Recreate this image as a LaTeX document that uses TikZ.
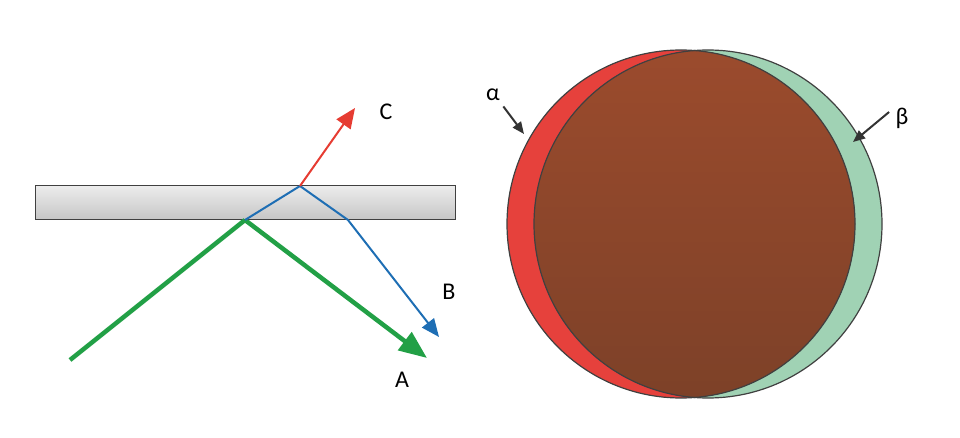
\documentclass[tikz,border=0pt]{standalone}
\usepackage{fontspec}
\setmainfont{Carlito}
\usetikzlibrary{arrows.meta}
\begin{document}
\begin{tikzpicture}[x=1pt,y=-1pt,
  lbl/.style={font=\fontsize{24}{28}\selectfont},
  ray/.style={line width=2pt}]
\useasboundingbox (0,0) rectangle (960,438);
\node[draw=black!75,line width=1pt,top color=gray!15,bottom color=gray!45,minimum width=420pt,minimum height=34pt,inner sep=0pt] (slab) at (245,203) {};
\coordinate (g0) at (70,360);
\coordinate (p1) at (245,220);
\coordinate (p2) at (300,186);
\coordinate (p3) at (348,220);
\coordinate (ga) at (427,358);
\coordinate (be) at (439,337);
\coordinate (ce) at (355,108);
\draw[line width=4.5pt,color={rgb,255:red,34;green,160;blue,70}] (g0) -- (p1);
\draw[line width=4.5pt,color={rgb,255:red,34;green,160;blue,70},-{Triangle[length=28pt,width=22pt]}] (p1) -- (ga);
\draw[ray,color={rgb,255:red,30;green,110;blue,180},-{Triangle[length=18pt,width=15pt]}] (p1) -- (p2) -- (p3) -- (be);
\draw[ray,color={rgb,255:red,230;green,60;blue,50},-{Triangle[length=20pt,width=17pt]}] (p2) -- (ce);
\node[lbl] (C) at (386,112) {C};
\node[lbl] (B) at (449,292) {B};
\node[lbl] (A) at (402,380) {A};
\fill[color={rgb,255:red,230;green,65;blue,60}] (681,224) circle (174);
\fill[color={rgb,255:red,160;green,210;blue,180}] (708,224) circle (174);
\begin{scope}
\clip (681,224) circle (174);
\fill[top color={rgb,255:red,155;green,75;blue,45},bottom color={rgb,255:red,125;green,65;blue,40}] (708,224) circle (174);
\end{scope}
\draw[black!75,line width=1.2pt] (681,224) circle (174);
\draw[black!75,line width=1.2pt] (708,224) circle (174);
\node[lbl] (al) at (493,95) {α};
\node[lbl] (be2) at (902,118) {β};
\draw[black!80,line width=2pt,-{Triangle[length=12pt,width=10pt]}] (al.south east) ++(0,2) -- (524,134);
\draw[black!80,line width=2pt,-{Triangle[length=12pt,width=10pt]}] (be2.west) ++(-3,-6) -- (853,142);
\end{tikzpicture}
\end{document}
